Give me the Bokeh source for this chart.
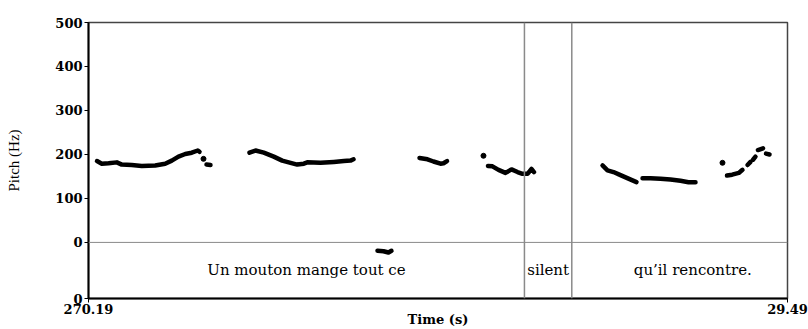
from bokeh.plotting import figure
from bokeh.models import Range1d, FixedTicker, Span, ColumnDataSource
from bokeh.embed import file_html
from bokeh.resources import INLINE
from bokeh.core.properties import value

# Visible time window (s) and vertical extent: pitch band 0-500 Hz, text tier below zero
T_START, T_END = 270.19, 279.49
F_TOP = 500
TIER_BOTTOM = -127.5

# Pitch contour, one array pair per voiced stretch (time in s, F0 in Hz)
t_run1 = [270.303, 270.367, 270.456, 270.567, 270.633, 270.766, 270.899, 271.077,
          271.210, 271.298, 271.387, 271.477, 271.564, 271.644, 271.667]
f_run1 = [185, 179, 180, 182, 177, 176, 174, 175, 179, 186, 195, 201, 204, 209, 206]

t_run2 = [271.760, 271.813]
f_run2 = [177, 176]

t_run3 = [272.332, 272.412, 272.522, 272.655, 272.767, 272.878, 272.967, 273.055,
          273.100, 273.277, 273.454, 273.587, 273.676, 273.716]
f_run3 = [204, 209, 204, 195, 186, 181, 177, 179, 182, 181, 183, 185, 186, 189]

t_run4 = [274.035, 274.115, 274.181, 274.221]
f_run4 = [-19, -20, -23, -19]

t_run5 = [274.594, 274.700, 274.780, 274.873, 274.913, 274.960]
f_run5 = [192, 189, 184, 179, 180, 185]

t_run6 = [275.505, 275.565, 275.645, 275.738, 275.818, 275.898, 275.964, 276.031,
          276.084, 276.117]
f_run6 = [174, 173, 165, 158, 166, 160, 156, 156, 167, 160]

t_run7 = [277.029, 277.095, 277.175, 277.268, 277.374, 277.481]
f_run7 = [175, 164, 160, 153, 145, 137]

t_run8 = [277.561, 277.667, 277.800, 277.933, 278.066, 278.173, 278.266]
f_run8 = [146, 146, 145, 143, 140, 137, 137]

t_run9 = [278.685, 278.754, 278.842, 278.891]
f_run9 = [152, 154, 158, 165]

t_run10 = [278.958, 278.998]
f_run10 = [176, 183]

t_run11 = [279.031, 279.064]
f_run11 = [188, 195]

t_run12 = [279.097, 279.164]
f_run12 = [210, 214]

t_run13 = [279.204, 279.251]
f_run13 = [202, 200]

# Isolated single-frame pitch points
dot_t = [271.720, 275.445, 278.625]
dot_f = [190, 197, 181]

# Text tier: interval edges and their labels
tier_edges = [270.19, 275.99, 276.62, 279.84]
tier_labels = ["Un mouton mange tout ce", "silent", "qu\u2019il rencontre."]

# Axis ticks
y_ticks = [TIER_BOTTOM, 0, 100, 200, 300, 400, 500]
y_tick_text = {TIER_BOTTOM: "0"}
x_ticks = [T_START, T_END]
x_tick_text = {T_START: "270.19", T_END: "29.49"}

SERIF = "DejaVu Serif"

p = figure(width=808, height=329, output_backend="svg", toolbar_location=None,
           x_range=Range1d(T_START, T_END), y_range=Range1d(TIER_BOTTOM, F_TOP),
           min_border_left=88, min_border_right=21, min_border_top=22,
           min_border_bottom=31)
p.grid.visible = False
p.background_fill_color = "white"
p.border_fill_color = "white"
p.outline_line_color = "#444444"
p.outline_line_width = 1.5

# Pitch contour drawn as thick strokes, one per voiced stretch
runs_t = [t_run1, t_run2, t_run3, t_run4, t_run5, t_run6, t_run7, t_run8,
          t_run9, t_run10, t_run11, t_run12, t_run13]
runs_f = [f_run1, f_run2, f_run3, f_run4, f_run5, f_run6, f_run7, f_run8,
          f_run9, f_run10, f_run11, f_run12, f_run13]
p.multi_line(xs=runs_t, ys=runs_f, line_color="black", line_width=4.5,
             line_cap="round", line_join="round")
p.scatter(x=dot_t, y=dot_f, size=5, color="black")

# Zero line separating the pitch band from the text tier
p.add_layout(Span(location=0, dimension="width", line_color="#8a8a8a", line_width=1))

# Interval boundaries of the text tier
for edge in tier_edges[1:-1]:
    p.add_layout(Span(location=edge, dimension="height", line_color="#8a8a8a",
                      line_width=1.5))

mids = [(a + b) / 2 for a, b in zip(tier_edges[:-1], tier_edges[1:])]
tier_src = ColumnDataSource(dict(x=mids, y=[TIER_BOTTOM / 2] * len(mids), text=tier_labels))
p.text(x="x", y="y", text="text", source=tier_src, text_font=value(SERIF),
       text_font_size="15px", text_align="center", text_baseline="middle",
       text_color="black")

# Axes
p.yaxis.ticker = FixedTicker(ticks=y_ticks)
p.yaxis.major_label_overrides = y_tick_text
p.yaxis.minor_tick_line_color = None
p.yaxis.major_tick_out = 4
p.yaxis.major_tick_in = 0
p.yaxis.major_label_standoff = 2
p.yaxis.axis_line_width = 2
p.yaxis.axis_line_color = "black"
p.yaxis.major_tick_line_color = "black"
p.yaxis.major_label_text_font = SERIF
p.yaxis.major_label_text_font_size = "13px"
p.yaxis.major_label_text_font_style = "bold"
p.yaxis.major_label_text_color = "black"
p.yaxis.axis_label = "Pitch (Hz)"
p.yaxis.axis_label_text_font = "Liberation Serif"
p.yaxis.axis_label_text_font_size = "15px"
p.yaxis.axis_label_text_font_style = "normal"
p.yaxis.axis_label_text_color = "black"
p.yaxis.axis_label_standoff = 30

p.xaxis.ticker = FixedTicker(ticks=x_ticks)
p.xaxis.major_label_overrides = x_tick_text
p.xaxis.minor_tick_line_color = None
p.xaxis.major_tick_out = 4
p.xaxis.major_tick_in = 0
p.xaxis.major_label_standoff = 1
p.xaxis.axis_line_width = 2
p.xaxis.axis_line_color = "black"
p.xaxis.major_tick_line_color = "black"
p.xaxis.major_label_text_font = SERIF
p.xaxis.major_label_text_font_size = "13px"
p.xaxis.major_label_text_font_style = "bold"
p.xaxis.major_label_text_color = "black"
p.xaxis.axis_label = "Time (s)"
p.xaxis.axis_label_text_font = SERIF
p.xaxis.axis_label_text_font_size = "13px"
p.xaxis.axis_label_text_font_style = "bold"
p.xaxis.axis_label_text_color = "black"
p.xaxis.axis_label_standoff = -5

open("out.html", "w").write(file_html(p, INLINE))
